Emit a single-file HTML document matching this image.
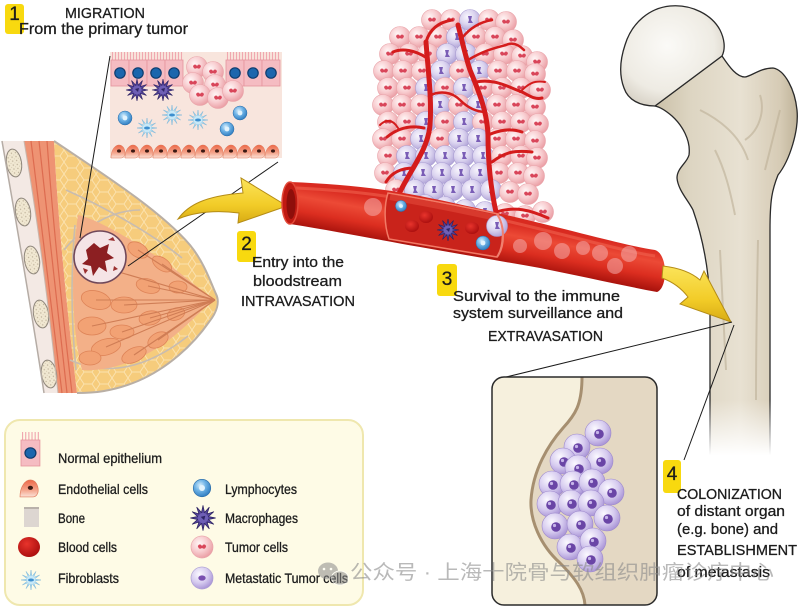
<!DOCTYPE html>
<html><head><meta charset="utf-8"><style>
html,body{margin:0;padding:0;background:#fff;}
svg{display:block;}
text{font-family:"Liberation Sans","Noto Sans CJK SC",sans-serif;fill:#1c1c1c;}
.lb{stroke:#1c1c1c;stroke-width:.3;}
</style></head><body>
<svg width="800" height="608" viewBox="0 0 800 608" xmlns="http://www.w3.org/2000/svg">
<defs>
<radialGradient id="gPink" cx=".38" cy=".35" r=".7"><stop offset="0" stop-color="#fff6f6"/><stop offset=".5" stop-color="#f8cdd0"/><stop offset="1" stop-color="#e99aa1"/></radialGradient>
<radialGradient id="gPurp" cx=".38" cy=".35" r=".7"><stop offset="0" stop-color="#f8f6fd"/><stop offset=".5" stop-color="#dcd5f0"/><stop offset="1" stop-color="#aea1d6"/></radialGradient>
<radialGradient id="gBlue" cx=".4" cy=".35" r=".7"><stop offset="0" stop-color="#d7eefc"/><stop offset=".45" stop-color="#6fb3e6"/><stop offset="1" stop-color="#2a78bd"/></radialGradient>
<radialGradient id="gMet" cx=".38" cy=".33" r=".72"><stop offset="0" stop-color="#fbf9ff"/><stop offset=".55" stop-color="#d6cbef"/><stop offset="1" stop-color="#a58fd4"/></radialGradient>
<radialGradient id="gRed" cx=".4" cy=".35" r=".7"><stop offset="0" stop-color="#e8342c"/><stop offset="1" stop-color="#a80d0d"/></radialGradient>
<radialGradient id="gHead" cx=".45" cy=".4" r=".65"><stop offset="0" stop-color="#fbfaf7"/><stop offset=".7" stop-color="#eeebe3"/><stop offset="1" stop-color="#d6d0c4"/></radialGradient>
<linearGradient id="gBone" x1="0" y1="0" x2="1" y2="0"><stop offset="0" stop-color="#cbc0a8"/><stop offset=".25" stop-color="#ddd5c2"/><stop offset=".6" stop-color="#e8e1d2"/><stop offset=".88" stop-color="#d6cbb5"/><stop offset="1" stop-color="#bfb399"/></linearGradient>
<linearGradient id="fadeW" x1="0" y1="0" x2="0" y2="1"><stop offset="0" stop-color="#fff" stop-opacity="0"/><stop offset=".85" stop-color="#fff" stop-opacity="1"/></linearGradient>
<linearGradient id="gVes" gradientUnits="userSpaceOnUse" x1="0" y1="0" x2="0" y2="42" gradientTransform="translate(290,182) skewY(10.4)"><stop offset="0" stop-color="#d92a20"/><stop offset=".3" stop-color="#ec4a36"/><stop offset=".65" stop-color="#dc2e20"/><stop offset="1" stop-color="#a9130d"/></linearGradient>
<linearGradient id="gArr" x1="0" y1="0" x2="0" y2="1"><stop offset="0" stop-color="#fbe45a"/><stop offset=".6" stop-color="#f2cc28"/><stop offset="1" stop-color="#d8ab14"/></linearGradient>
<linearGradient id="gEnd" x1="0" y1="0" x2="0" y2="1"><stop offset="0" stop-color="#ec6848"/><stop offset=".6" stop-color="#f4a58c"/><stop offset="1" stop-color="#fbe2d8"/></linearGradient>
<pattern id="fat" width="16" height="12" patternUnits="userSpaceOnUse"><rect width="16" height="12" fill="#f6cc7c"/><path d="M0,6 L4,0 L12,0 L16,6 L12,12 L4,12 Z" fill="none" stroke="#fbe2ae" stroke-width="1"/></pattern>
<pattern id="stip" width="4" height="4" patternUnits="userSpaceOnUse"><rect width="4" height="4" fill="#f1e8d2"/><circle cx="1" cy="1" r=".7" fill="#bfb29a"/><circle cx="3" cy="3" r=".5" fill="#cfc3aa"/></pattern>
<g id="pc"><circle r="10.5" fill="url(#gPink)" stroke="#e8a2a8" stroke-width=".6"/><path d="M-4,-1 Q-2,-4 0,-1 Q2,-4 4,-1 Q3,3 0,1 Q-3,3 -4,-1Z" fill="#d9465a"/></g>
<g id="mc"><circle r="10.5" fill="url(#gPurp)" stroke="#a99cd2" stroke-width=".6"/><path d="M-2,-4 L2,-4 L1,0 L3,3 L-2,3 L-1,0Z" fill="#7a5db6"/></g>
<g id="bm"><circle r="13" fill="url(#gMet)" stroke="#9c88cc" stroke-width=".6"/><circle cx="1" cy="1" r="4.8" fill="#6a45a6"/><circle cx="-.5" cy="-.5" r="1.6" fill="#c7b5ea"/></g>
<g id="mac"><path d="M11,0 L4.8,1.3 L9.5,5.5 L3.5,3.5 L5.5,9.5 L1.3,4.8 L0,11 L-1.3,4.8 L-5.5,9.5 L-3.5,3.5 L-9.5,5.5 L-4.8,1.3 L-11,0 L-4.8,-1.3 L-9.5,-5.5 L-3.5,-3.5 L-5.5,-9.5 L-1.3,-4.8 L0,-11 L1.3,-4.8 L5.5,-9.5 L3.5,-3.5 L9.5,-5.5 L4.8,-1.3 Z" fill="#54449a" stroke="#2b2160" stroke-width=".6"/><circle r="4.5" fill="#6e5fb5"/><path d="M-2,-1 L2,-2 L1,2 Z" fill="#2e2466"/></g>
<g id="fib"><path d="M10,0 L3.4,.9 L8.7,5 L2.5,2.5 L5,8.7 L.9,3.4 L0,10 L-.9,3.4 L-5,8.7 L-2.5,2.5 L-8.7,5 L-3.4,.9 L-10,0 L-3.4,-.9 L-8.7,-5 L-2.5,-2.5 L-5,-8.7 L-.9,-3.4 L0,-10 L.9,-3.4 L5,-8.7 L2.5,-2.5 L8.7,-5 L3.4,-.9 Z" fill="#a9d8ef" stroke="#7bb7da" stroke-width=".5"/><circle r="4.5" fill="#c7e8f7"/><ellipse rx="3" ry="1.5" fill="#3d8fcf"/></g>
<g id="lym"><circle r="7" fill="url(#gBlue)" stroke="#2a6aa5" stroke-width=".5"/><circle r="2.4" fill="#e2f3fd"/></g>
<g id="ep"><path d="M1.5,0v8M4.5,0v8M7.5,0v8M10.5,0v8M13.5,0v8M16.5,0v8" stroke="#f0a8b0" stroke-width="1.1"/><rect x="0" y="8" width="18" height="26" fill="#f5bcc2" stroke="#e5949d" stroke-width=".8"/><circle cx="9" cy="21" r="5.2" fill="#1c66ad" stroke="#0e3c6e" stroke-width="1.2"/></g>
<g id="en"><path d="M0,13 C0,5 4,0 8,0 C12,0 14,4 14,8 C14,11 12,13 10,13Z" fill="url(#gEnd)" stroke="#e0785a" stroke-width=".5"/><ellipse cx="8" cy="6" rx="2" ry="1.6" fill="#3b1a14"/></g>
<g id="rbc"><ellipse rx="7" ry="6" fill="url(#gRed)"/></g>
</defs>

<rect width="800" height="608" fill="#fff"/>

<!-- ===== Chest & breast ===== -->
<path d="M2,141 L54,141 C58,220 66,300 77,393 L44,393 C30,300 14,210 2,141 Z" fill="#f3e9e4"/>
<path d="M24,141 L54,141 C58,220 66,300 77,393 L58,393 C48,300 36,210 24,141 Z" fill="#ee9373"/>
<g fill="none" stroke="#dd6c50" stroke-width="1.2">
<path d="M31,141 C40,210 50,300 62,393"/><path d="M39,141 C46,210 56,300 67,393"/><path d="M47,141 C52,210 61,300 72,393"/>
</g>
<g fill="url(#stip)" stroke="#8f877c" stroke-width="1">
<ellipse cx="14" cy="163" rx="7.5" ry="14" transform="rotate(-9 14 163)"/>
<ellipse cx="23" cy="212" rx="7.5" ry="14" transform="rotate(-9 23 212)"/>
<ellipse cx="32" cy="260" rx="7.5" ry="14" transform="rotate(-9 32 260)"/>
<ellipse cx="41" cy="314" rx="7.5" ry="14" transform="rotate(-9 41 314)"/>
<ellipse cx="49" cy="374" rx="7.5" ry="14" transform="rotate(-9 49 374)"/>
</g>
<path d="M2,141 C14,210 30,300 44,393" fill="none" stroke="#b5aca5" stroke-width="1.5"/>
<path d="M24,141 C36,210 48,300 58,393" fill="none" stroke="#c9b6ab" stroke-width="1"/>

<path d="M54,141 C100,172 160,210 190,245 C204,262 211,283 216,294 C220,302 217,312 209,322 C193,345 168,368 138,381 C112,392 92,393 77,393 C66,300 58,220 54,141 Z" fill="url(#fat)"/>
<g fill="none" stroke="#c8bcb0" stroke-width="1.6">
<path d="M66,190 C100,205 150,232 182,258"/>
<path d="M70,360 C110,378 150,366 188,336"/>
<path d="M64,250 C80,230 110,210 140,210"/>
<path d="M76,370 C72,330 70,280 75,225"/>
</g>
<path d="M78,215 C100,220 135,242 165,262 C185,276 200,290 214,299 C200,312 185,328 165,343 C140,360 110,372 82,370 C72,330 70,270 78,215 Z" fill="#f3b088"/>
<g fill="#f2a274" stroke="#de8458" stroke-width=".8">
<ellipse cx="96" cy="300" rx="15" ry="9" transform="rotate(15 96 300)"/>
<ellipse cx="92" cy="326" rx="14" ry="9"/>
<ellipse cx="106" cy="347" rx="15" ry="8" transform="rotate(-15 106 347)"/>
<ellipse cx="134" cy="355" rx="13" ry="7" transform="rotate(-25 134 355)"/>
<ellipse cx="158" cy="340" rx="11" ry="7" transform="rotate(-30 158 340)"/>
<ellipse cx="124" cy="305" rx="13" ry="8"/>
<ellipse cx="150" cy="318" rx="11" ry="7" transform="rotate(-10 150 318)"/>
<ellipse cx="148" cy="286" rx="12" ry="7" transform="rotate(15 148 286)"/>
<ellipse cx="138" cy="250" rx="11" ry="7" transform="rotate(30 138 250)"/>
<ellipse cx="162" cy="264" rx="11" ry="6" transform="rotate(35 162 264)"/>
<ellipse cx="178" cy="287" rx="9" ry="6"/>
<ellipse cx="176" cy="314" rx="9" ry="6" transform="rotate(-20 176 314)"/>
<ellipse cx="90" cy="358" rx="11" ry="7"/>
<ellipse cx="122" cy="332" rx="12" ry="7"/>
</g>
<g fill="none" stroke="#cf7d55" stroke-width="1.1">
<path d="M215,300 L96,300"/><path d="M215,300 L92,326"/><path d="M215,300 L106,347"/><path d="M215,300 L134,355"/><path d="M215,300 L158,340"/><path d="M215,300 L124,305"/><path d="M215,300 L150,318"/><path d="M215,300 L148,286"/><path d="M215,300 L138,250"/><path d="M215,300 L162,264"/><path d="M215,300 L122,332"/><path d="M215,300 L112,270"/>
</g>
<path d="M54,141 C100,172 160,210 190,245 C204,262 211,283 216,294 C220,302 217,312 209,322 C193,345 168,368 138,381 C112,392 92,393 77,393" fill="none" stroke="#b9afa5" stroke-width="2"/>
<!-- tumor -->
<circle cx="100" cy="257" r="26" fill="#f5e4e6" stroke="#70485a" stroke-width="1.6"/>
<path d="M86,250 l8,-7 l6,5 l9,-4 l-2,9 l7,5 l-9,3 l2,11 l-8,-5 l-6,9 l-2,-10 l-9,-2 l6,-5z" fill="#8c1f22"/>
<path d="M108,240 l5,-3 l2,4z M83,268 l5,2 l-3,4z M114,266 l4,3 l-5,2z" fill="#9b3030"/>

<!-- ===== Inset 1 tissue ===== -->
<rect x="110" y="52" width="172" height="106" fill="#f8e5dd"/>
<use href="#ep" x="111" y="52"/><use href="#ep" x="129" y="52"/><use href="#ep" x="147" y="52"/><use href="#ep" x="165" y="52"/>
<use href="#ep" x="226" y="52"/><use href="#ep" x="244" y="52"/><use href="#ep" x="262" y="52"/>
<use href="#pc" x="197" y="67"/><use href="#pc" x="213" y="72"/><use href="#pc" x="193" y="83"/><use href="#pc" x="215" y="85"/><use href="#pc" x="200" y="95"/><use href="#pc" x="218" y="98"/><use href="#pc" x="233" y="91"/>
<use href="#mac" x="137" y="90"/><use href="#mac" x="163" y="90"/>
<use href="#lym" x="125" y="118"/><use href="#lym" x="240" y="113"/><use href="#lym" x="227" y="129"/>
<use href="#fib" x="147" y="128"/><use href="#fib" x="172" y="115"/><use href="#fib" x="198" y="120"/>
<use href="#en" x="111" y="145"/><use href="#en" x="125" y="145"/><use href="#en" x="139" y="145"/><use href="#en" x="153" y="145"/><use href="#en" x="167" y="145"/><use href="#en" x="181" y="145"/><use href="#en" x="195" y="145"/><use href="#en" x="209" y="145"/><use href="#en" x="223" y="145"/><use href="#en" x="237" y="145"/><use href="#en" x="251" y="145"/><use href="#en" x="265" y="145"/>

<!-- connector lines from tumor -->
<path d="M110,56 L80,238" stroke="#1a1a1a" stroke-width="1"/>
<path d="M278,162 L128,266" stroke="#1a1a1a" stroke-width="1"/>

<!-- arrow 1 -->
<path d="M178,219 C188,205 205,196 243,193 L241,178 L287,206 L238,223 L239,213 C215,210 195,212 178,219 Z" fill="url(#gArr)" stroke="#b48c16" stroke-width="1"/>

<!-- ===== Tumor cluster ===== -->
<g>
<use href="#pc" x="432" y="20"/><use href="#pc" x="451" y="20"/><use href="#mc" x="470" y="20"/><use href="#pc" x="489" y="20"/><use href="#pc" x="506" y="22"/>
<use href="#pc" x="400" y="37"/><use href="#pc" x="419" y="37"/><use href="#pc" x="438" y="37"/><use href="#mc" x="457" y="37"/><use href="#pc" x="476" y="37"/><use href="#pc" x="495" y="37"/><use href="#pc" x="513" y="40"/>
<use href="#pc" x="390" y="54"/><use href="#pc" x="409" y="54"/><use href="#pc" x="428" y="54"/><use href="#mc" x="447" y="54"/><use href="#mc" x="466" y="54"/><use href="#pc" x="485" y="54"/><use href="#pc" x="504" y="54"/><use href="#pc" x="522" y="56"/><use href="#pc" x="537" y="62"/>
<use href="#pc" x="384" y="71"/><use href="#pc" x="403" y="71"/><use href="#pc" x="422" y="71"/><use href="#mc" x="441" y="71"/><use href="#pc" x="460" y="71"/><use href="#mc" x="479" y="71"/><use href="#pc" x="498" y="71"/><use href="#pc" x="517" y="71"/><use href="#pc" x="535" y="74"/>
<use href="#pc" x="388" y="88"/><use href="#pc" x="407" y="88"/><use href="#mc" x="426" y="88"/><use href="#pc" x="445" y="88"/><use href="#mc" x="464" y="88"/><use href="#pc" x="483" y="88"/><use href="#pc" x="502" y="88"/><use href="#pc" x="521" y="88"/><use href="#pc" x="540" y="90"/>
<use href="#pc" x="383" y="105"/><use href="#pc" x="402" y="105"/><use href="#pc" x="421" y="105"/><use href="#mc" x="440" y="105"/><use href="#pc" x="459" y="105"/><use href="#mc" x="478" y="105"/><use href="#pc" x="497" y="105"/><use href="#pc" x="516" y="105"/><use href="#pc" x="535" y="107"/>
<use href="#pc" x="388" y="122"/><use href="#pc" x="407" y="122"/><use href="#mc" x="426" y="122"/><use href="#pc" x="445" y="122"/><use href="#mc" x="464" y="122"/><use href="#pc" x="483" y="122"/><use href="#pc" x="502" y="122"/><use href="#pc" x="521" y="122"/><use href="#pc" x="538" y="124"/>
<use href="#pc" x="383" y="139"/><use href="#pc" x="402" y="139"/><use href="#mc" x="421" y="139"/><use href="#pc" x="440" y="139"/><use href="#mc" x="459" y="139"/><use href="#mc" x="478" y="139"/><use href="#pc" x="497" y="139"/><use href="#pc" x="516" y="139"/><use href="#pc" x="535" y="141"/>
<use href="#pc" x="388" y="156"/><use href="#mc" x="407" y="156"/><use href="#mc" x="426" y="156"/><use href="#mc" x="445" y="156"/><use href="#mc" x="464" y="156"/><use href="#mc" x="483" y="156"/><use href="#pc" x="502" y="156"/><use href="#pc" x="521" y="156"/><use href="#pc" x="537" y="158"/>
<use href="#pc" x="385" y="173"/><use href="#mc" x="404" y="173"/><use href="#mc" x="423" y="173"/><use href="#mc" x="442" y="173"/><use href="#mc" x="461" y="173"/><use href="#mc" x="480" y="173"/><use href="#pc" x="499" y="173"/><use href="#pc" x="518" y="173"/><use href="#pc" x="534" y="176"/>
<use href="#pc" x="396" y="190"/><use href="#mc" x="415" y="190"/><use href="#mc" x="434" y="190"/><use href="#mc" x="453" y="190"/><use href="#mc" x="472" y="190"/><use href="#mc" x="491" y="190"/><use href="#pc" x="510" y="192"/><use href="#pc" x="528" y="194"/>
<use href="#mc" x="425" y="205"/><use href="#mc" x="445" y="207"/><use href="#mc" x="465" y="210"/><use href="#mc" x="485" y="212"/><use href="#pc" x="505" y="214"/><use href="#pc" x="525" y="216"/><use href="#pc" x="543" y="212"/>
</g>
<g fill="none" stroke="#d41c1c" stroke-linecap="round">
<path d="M398,196 C410,170 428,150 430,125 C432,100 428,70 426,42" stroke-width="5"/>
<path d="M427,58 C415,50 402,48 393,52" stroke-width="3"/>
<path d="M426,42 C430,28 440,22 452,20" stroke-width="3"/>
<path d="M424,128 C410,125 398,128 387,137" stroke-width="3"/>
<path d="M398,128 C392,118 385,120 380,125" stroke-width="2"/>
<path d="M414,168 C402,168 392,172 386,182" stroke-width="3"/>
<path d="M496,212 C490,185 488,160 488,135 C487,110 478,90 470,70 C465,55 462,40 458,25" stroke-width="5"/>
<path d="M476,82 C495,78 510,88 522,92 C530,96 535,100 542,98" stroke-width="3"/>
<path d="M488,135 C500,130 510,128 522,132" stroke-width="3"/>
<path d="M462,38 C470,28 480,22 492,20" stroke-width="2.5"/>
<path d="M468,60 C485,50 495,48 506,45 C512,42 518,44 524,50" stroke-width="2.5"/>
<path d="M492,162 C505,152 515,150 532,152" stroke-width="3"/>
<path d="M429,96 C440,90 452,92 460,100 C468,108 476,112 486,112" stroke-width="2.5"/>
<path d="M520,92 C528,84 534,80 545,82" stroke-width="2"/>
<path d="M496,212 C515,206 530,210 548,218" stroke-width="3"/>
</g>

<!-- ===== Blood vessel ===== -->
<path d="M290,182 C340,184 380,188 420,196 C470,206 520,218 560,228 C600,238 630,246 655,250 C668,254 668,288 657,292 C620,285 580,276 540,268 C500,261 460,254 420,247 C380,240 340,232 290,224 Z" fill="url(#gVes)"/>
<path d="M296,188 C340,190 380,194 420,202 C470,212 520,224 560,234 C600,244 630,252 655,256" fill="none" stroke="#f26652" stroke-width="3" opacity=".55"/>
<ellipse cx="290" cy="203" rx="8" ry="21" fill="#c01a12" stroke="#e34a3a" stroke-width="1.5"/>
<ellipse cx="291" cy="204" rx="4.5" ry="15" fill="#8e0f0b"/>
<path d="M388,193 C430,200 465,207 498,214 C504,226 504,246 497,257 C460,251 425,245 389,239 C384,225 384,205 388,193 Z" fill="#c9231b" stroke="#f27a66" stroke-width="1.5"/>
<path d="M390,197 C430,204 465,211 496,218" fill="none" stroke="#e2473a" stroke-width="6" opacity=".6"/>
<g transform="translate(401,206) scale(.8)"><use href="#lym"/></g>
<use href="#rbc" x="412" y="226"/><use href="#rbc" x="426" y="217"/><use href="#rbc" x="472" y="228"/>
<use href="#mac" x="448" y="230"/>
<use href="#lym" x="483" y="243"/>
<use href="#mc" x="497" y="226"/>
<path d="M497,214 C505,226 505,246 497,257" fill="none" stroke="#f08070" stroke-width="2"/>
<g fill="#f5b6b6" opacity=".5">
<circle cx="373" cy="207" r="9"/><circle cx="520" cy="246" r="7"/><circle cx="543" cy="241" r="9"/><circle cx="562" cy="251" r="8"/><circle cx="583" cy="248" r="7"/><circle cx="600" cy="253" r="8"/><circle cx="615" cy="266" r="8"/><circle cx="629" cy="254" r="8"/>
</g>

<!-- ===== Bone ===== -->
<path d="M655,106 L722,56 C730,68 737,77 745,77 C752,76 760,68 773,68 C785,70 795,90 797,110 C799,130 790,160 778,175 C772,190 770,200 770,230 L770,460 L710,460 L710,300 C708,260 700,230 693,210 C688,200 678,190 677,178 C677,168 687,163 689,155 C691,140 682,125 672,116 C665,110 660,107 655,106 Z" fill="url(#gBone)" stroke="#2a2a2a" stroke-width="1.3"/>
<g fill="none" stroke="#bdb097" stroke-width="2" opacity=".6">
<path d="M700,110 C720,120 740,135 748,160"/><path d="M760,95 C765,110 760,130 745,140"/><path d="M715,150 C725,170 730,190 735,215"/><path d="M780,110 C775,130 770,150 765,170"/><path d="M720,250 C722,290 724,330 726,370"/><path d="M758,240 C757,290 756,340 756,400"/>
</g>
<path d="M655,106 C640,106 628,100 624,88 C619,75 620,60 625,45 C632,22 650,8 670,6 C692,4 712,15 720,30 C724,38 726,48 722,56 Z" fill="url(#gHead)" stroke="#2a2a2a" stroke-width="1.3"/>
<rect x="690" y="400" width="110" height="65" fill="url(#fadeW)"/>

<!-- arrow 3 -->
<path d="M663,266 C680,268 692,273 700,280 L704,271 L731,322 L680,304 L688,297 C682,289 673,282 662,278 Z" fill="url(#gArr)" stroke="#b48c16" stroke-width="1"/>

<path d="M732,322 L498,379" stroke="#1a1a1a" stroke-width="1"/>
<path d="M734,325 L684,460" stroke="#1a1a1a" stroke-width="1"/>

<!-- ===== Inset 2 ===== -->
<rect x="492" y="377" width="165" height="228" rx="12" fill="#f6f0dd"/>
<path d="M582,377 L645,377 Q657,377 657,389 L657,593 Q657,605 645,605 L585,605 C584,590 575,578 560,563 C540,545 530,520 531,500 C533,470 548,445 563,428 C575,415 582,405 582,377 Z" fill="#e4d8c3"/>
<path d="M582,377 C582,405 575,415 563,428 C548,445 533,470 531,500 C530,520 540,545 560,563 C575,578 584,590 585,605" fill="none" stroke="#a68f70" stroke-width="3"/>
<g>
<use href="#bm" x="598" y="433"/><use href="#bm" x="577" y="447"/><use href="#bm" x="563" y="461"/><use href="#bm" x="600" y="461"/><use href="#bm" x="578" y="468"/>
<use href="#bm" x="552" y="484"/><use href="#bm" x="573" y="484"/><use href="#bm" x="592" y="482"/><use href="#bm" x="611" y="492"/>
<use href="#bm" x="550" y="504"/><use href="#bm" x="571" y="503"/><use href="#bm" x="591" y="503"/>
<use href="#bm" x="555" y="526"/><use href="#bm" x="580" y="524"/><use href="#bm" x="607" y="518"/>
<use href="#bm" x="570" y="547"/><use href="#bm" x="593" y="541"/><use href="#bm" x="590" y="559"/>
</g>
<rect x="492" y="377" width="165" height="228" rx="12" fill="none" stroke="#2a2a2a" stroke-width="1.5"/>

<!-- ===== Labels ===== -->
<rect x="5" y="4" width="19" height="30" rx="3" fill="#f8d90f"/>
<text class="lb" x="14.5" y="20" font-size="19" text-anchor="middle">1</text>
<text class="lb" x="65" y="18" font-size="15" textLength="80" lengthAdjust="spacingAndGlyphs">MIGRATION</text>
<text class="lb" x="19" y="34" font-size="16" textLength="169" lengthAdjust="spacingAndGlyphs">From the primary tumor</text>

<rect x="237" y="231" width="19" height="31" rx="3" fill="#f8d90f"/>
<text class="lb" x="246.5" y="250" font-size="19" text-anchor="middle">2</text>
<text class="lb" x="252" y="267" font-size="15" textLength="92" lengthAdjust="spacingAndGlyphs">Entry into the</text>
<text class="lb" x="253" y="286" font-size="15" textLength="89" lengthAdjust="spacingAndGlyphs">bloodstream</text>
<text class="lb" x="241" y="306" font-size="15" textLength="114" lengthAdjust="spacingAndGlyphs">INTRAVASATION</text>

<rect x="437" y="264" width="20" height="32" rx="3" fill="#f8d90f"/>
<text class="lb" x="447" y="285" font-size="19" text-anchor="middle">3</text>
<text class="lb" x="453" y="301" font-size="15" textLength="167" lengthAdjust="spacingAndGlyphs">Survival to the immune</text>
<text class="lb" x="453" y="318" font-size="15" textLength="170" lengthAdjust="spacingAndGlyphs">system surveillance and</text>
<text class="lb" x="488" y="341" font-size="15" textLength="115" lengthAdjust="spacingAndGlyphs">EXTRAVASATION</text>

<rect x="663" y="460" width="18" height="33" rx="3" fill="#f8d90f"/>
<text class="lb" x="672" y="480" font-size="19" text-anchor="middle">4</text>
<text class="lb" x="677" y="499" font-size="15" textLength="105" lengthAdjust="spacingAndGlyphs">COLONIZATION</text>
<text class="lb" x="677" y="516" font-size="15" textLength="108" lengthAdjust="spacingAndGlyphs">of distant organ</text>
<text class="lb" x="677" y="534" font-size="15" textLength="101" lengthAdjust="spacingAndGlyphs">(e.g. bone) and</text>
<text class="lb" x="677" y="555" font-size="15" textLength="120" lengthAdjust="spacingAndGlyphs">ESTABLISHMENT</text>
<text class="lb" x="677" y="577" font-size="15" textLength="93" lengthAdjust="spacingAndGlyphs">of metastasis</text>

<!-- ===== Legend ===== -->
<rect x="5" y="420" width="358" height="185" rx="15" fill="#fefbe6" stroke="#efe7ae" stroke-width="2"/>
<g transform="translate(21,432) scale(1.05,1)"><use href="#ep"/></g>
<g transform="translate(20,480) scale(1.3)"><use href="#en"/></g>
<rect x="24" y="508" width="15" height="19" fill="#ddd6d1"/><rect x="24" y="507" width="15" height="2" fill="#b9b1aa"/>
<ellipse cx="29" cy="547" rx="11" ry="10" fill="url(#gRed)"/>
<g transform="translate(31,580)"><use href="#fib"/></g>
<g transform="translate(202,488) scale(1.25)"><use href="#lym"/></g>
<g transform="translate(203,518) scale(1.15)"><use href="#mac"/></g>
<g transform="translate(202,547) scale(1.05)"><use href="#pc"/></g>
<g transform="translate(202,578) scale(1.05)"><circle r="10.5" fill="url(#gMet)" stroke="#a99cd2" stroke-width=".6"/><ellipse rx="3.5" ry="2.5" fill="#7a4fb0"/></g>
<text class="lb" x="58" y="463" font-size="14" textLength="104" lengthAdjust="spacingAndGlyphs">Normal epithelium</text>
<text class="lb" x="58" y="494" font-size="14" textLength="90" lengthAdjust="spacingAndGlyphs">Endothelial cells</text>
<text class="lb" x="58" y="523" font-size="14" textLength="27" lengthAdjust="spacingAndGlyphs">Bone</text>
<text class="lb" x="58" y="552" font-size="14" textLength="59" lengthAdjust="spacingAndGlyphs">Blood cells</text>
<text class="lb" x="58" y="583" font-size="14" textLength="61" lengthAdjust="spacingAndGlyphs">Fibroblasts</text>
<text class="lb" x="225" y="494" font-size="14" textLength="72" lengthAdjust="spacingAndGlyphs">Lymphocytes</text>
<text class="lb" x="225" y="523" font-size="14" textLength="73" lengthAdjust="spacingAndGlyphs">Macrophages</text>
<text class="lb" x="225" y="552" font-size="14" textLength="63" lengthAdjust="spacingAndGlyphs">Tumor cells</text>
<text class="lb" x="225" y="583" font-size="14" textLength="123" lengthAdjust="spacingAndGlyphs">Metastatic Tumor cells</text>

<!-- ===== Watermark ===== -->
<g opacity=".55">
<ellipse cx="328" cy="571" rx="10" ry="8.5" fill="#8a8a8a"/>
<ellipse cx="340" cy="578" rx="8.5" ry="7" fill="#8a8a8a" stroke="#fff" stroke-width="1"/>
<circle cx="324" cy="569" r="1.3" fill="#fff"/><circle cx="331" cy="569" r="1.3" fill="#fff"/>
</g>
<text x="350" y="579" font-size="20" style="fill:#8a8a8a;fill-opacity:.6;font-family:'Liberation Sans','Noto Sans CJK SC',sans-serif" textLength="424" lengthAdjust="spacingAndGlyphs">公众号 · 上海十院骨与软组织肿瘤诊疗中心</text>
</svg>
</body></html>
